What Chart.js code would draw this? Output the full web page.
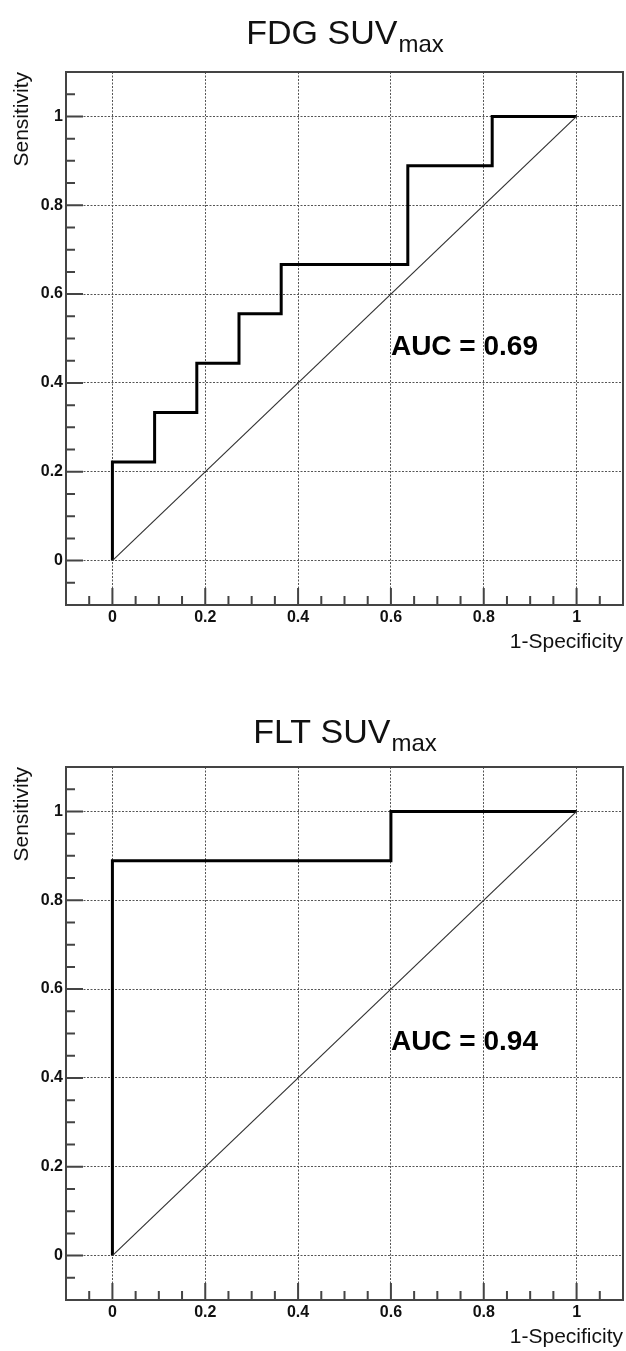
<!DOCTYPE html>
<html lang="en">
<head>
<meta charset="UTF-8" />
<title>ROC curves - FDG / FLT SUVmax</title>
<script src="https://cdn.jsdelivr.net/npm/chart.js@4.4.0/dist/chart.umd.min.js"></script>
<style>
  body { margin: 0; background: #fff; }
  canvas { display: block; }
</style>
</head>
<body>
<canvas id="fdgChart" width="626" height="695"></canvas>
<canvas id="fltChart" width="626" height="656"></canvas>
<script>
// ROC points (1-specificity, sensitivity)
const fdgFpr = [0, 0, 0.0909, 0.0909, 0.1818, 0.1818, 0.2727, 0.2727, 0.3636, 0.3636, 0.6364, 0.6364, 0.8182, 0.8182, 1];
const fdgTpr = [0, 0.2222, 0.2222, 0.3333, 0.3333, 0.4444, 0.4444, 0.5556, 0.5556, 0.6667, 0.6667, 0.8889, 0.8889, 1, 1];
const fltFpr = [0, 0, 0.6, 0.6, 1];
const fltTpr = [0, 0.8889, 0.8889, 1, 1];
// chance line
const diagX = [0, 1];
const diagY = [0, 1];

const FONT = "'Liberation Sans', Arial, Helvetica, sans-serif";

function isMajor(v) {
  const k = Math.round(v * 5);
  return Math.abs(v * 5 - k) < 1e-6 && k >= 0 && k <= 5;
}
function tickLabel(v) {
  return isMajor(v) ? String(Math.round(v * 5) / 5) : '';
}
function toPoints(xs, ys) {
  return xs.map((x, i) => ({ x: x, y: ys[i] }));
}

// ROOT-like frame: box, inward ticks, AUC text and title with subscript
const rootFrame = {
  id: 'rootFrame',
  afterDraw(chart, args, opts) {
    const { ctx, chartArea: a } = chart;
    const x = chart.scales.x, y = chart.scales.y;
    ctx.save();
    ctx.strokeStyle = '#444';
    ctx.lineWidth = 2;
    ctx.beginPath();
    x.ticks.forEach(t => {
      if (t.value <= -0.099 || t.value >= 1.099) return;
      const px = x.getPixelForValue(t.value);
      ctx.moveTo(px, a.bottom);
      ctx.lineTo(px, a.bottom - (isMajor(t.value) ? 17 : 9));
    });
    y.ticks.forEach(t => {
      if (t.value <= -0.099 || t.value >= 1.099) return;
      const py = y.getPixelForValue(t.value);
      ctx.moveTo(a.left, py);
      ctx.lineTo(a.left + (isMajor(t.value) ? 17 : 9), py);
    });
    ctx.stroke();
    ctx.strokeRect(a.left, a.top, a.width, a.height);

    ctx.fillStyle = '#000';
    ctx.font = 'bold 28px ' + FONT;
    ctx.textAlign = 'left';
    ctx.textBaseline = 'middle';
    ctx.fillText(opts.auc, x.getPixelForValue(0.6), y.getPixelForValue(0.48));

    ctx.fillStyle = '#111';
    ctx.textBaseline = 'alphabetic';
    ctx.font = '34px ' + FONT;
    const w1 = ctx.measureText(opts.title).width;
    ctx.font = '24px ' + FONT;
    const w2 = ctx.measureText(opts.sub).width;
    const x0 = (a.left + a.right) / 2 - (w1 + w2) / 2;
    const base = a.top - opts.titleGap;
    ctx.font = '34px ' + FONT;
    ctx.fillText(opts.title, x0, base);
    ctx.font = '24px ' + FONT;
    ctx.fillText(opts.sub, x0 + w1 + 1, base + 8);
    ctx.restore();
  }
};

function axis(title, fit) {
  return {
    type: 'linear',
    min: -0.1,
    max: 1.1,
    ticks: {
      stepSize: 0.05,
      autoSkip: false,
      maxRotation: 0,
      padding: 3,
      color: '#111',
      font: { family: FONT, size: 16, weight: 'bold' },
      callback: tickLabel
    },
    grid: {
      drawTicks: false,
      color: '#555',
      lineWidth: c => (c.tick && isMajor(c.tick.value) ? 1 : 0)
    },
    border: { display: false, dash: [2, 1.5] },
    title: {
      display: true,
      text: title,
      align: 'end',
      color: '#111',
      padding: 0,
      font: { family: FONT, size: 21 }
    },
    afterFit: fit
  };
}

function makeChart(id, fpr, tpr, title, auc, padBottom, titleGap) {
  new Chart(document.getElementById(id), {
    type: 'scatter',
    data: {
      datasets: [
        {
          data: toPoints(diagX, diagY),
          showLine: true,
          borderColor: '#333',
          borderWidth: 1.2,
          pointRadius: 0
        },
        {
          data: toPoints(fpr, tpr),
          showLine: true,
          borderColor: '#000',
          borderWidth: 3,
          pointRadius: 0
        }
      ]
    },
    options: {
      responsive: false,
      animation: false,
      events: [],
      layout: { padding: { top: 72, left: 10, right: 2, bottom: padBottom } },
      scales: {
        x: axis('1-Specificity', s => { s.height = 50; }),
        y: axis('Sensitivity', s => { s.width = 56; })
      },
      plugins: {
        legend: { display: false },
        tooltip: { enabled: false },
        rootFrame: { title: title, sub: 'max', auc: auc, titleGap: titleGap }
      }
    },
    plugins: [rootFrame]
  });
}

makeChart('fdgChart', fdgFpr, fdgTpr, 'FDG SUV', 'AUC = 0.69', 40, 28);
makeChart('fltChart', fltFpr, fltTpr, 'FLT SUV', 'AUC = 0.94', 1, 24);
</script>
</body>
</html>
